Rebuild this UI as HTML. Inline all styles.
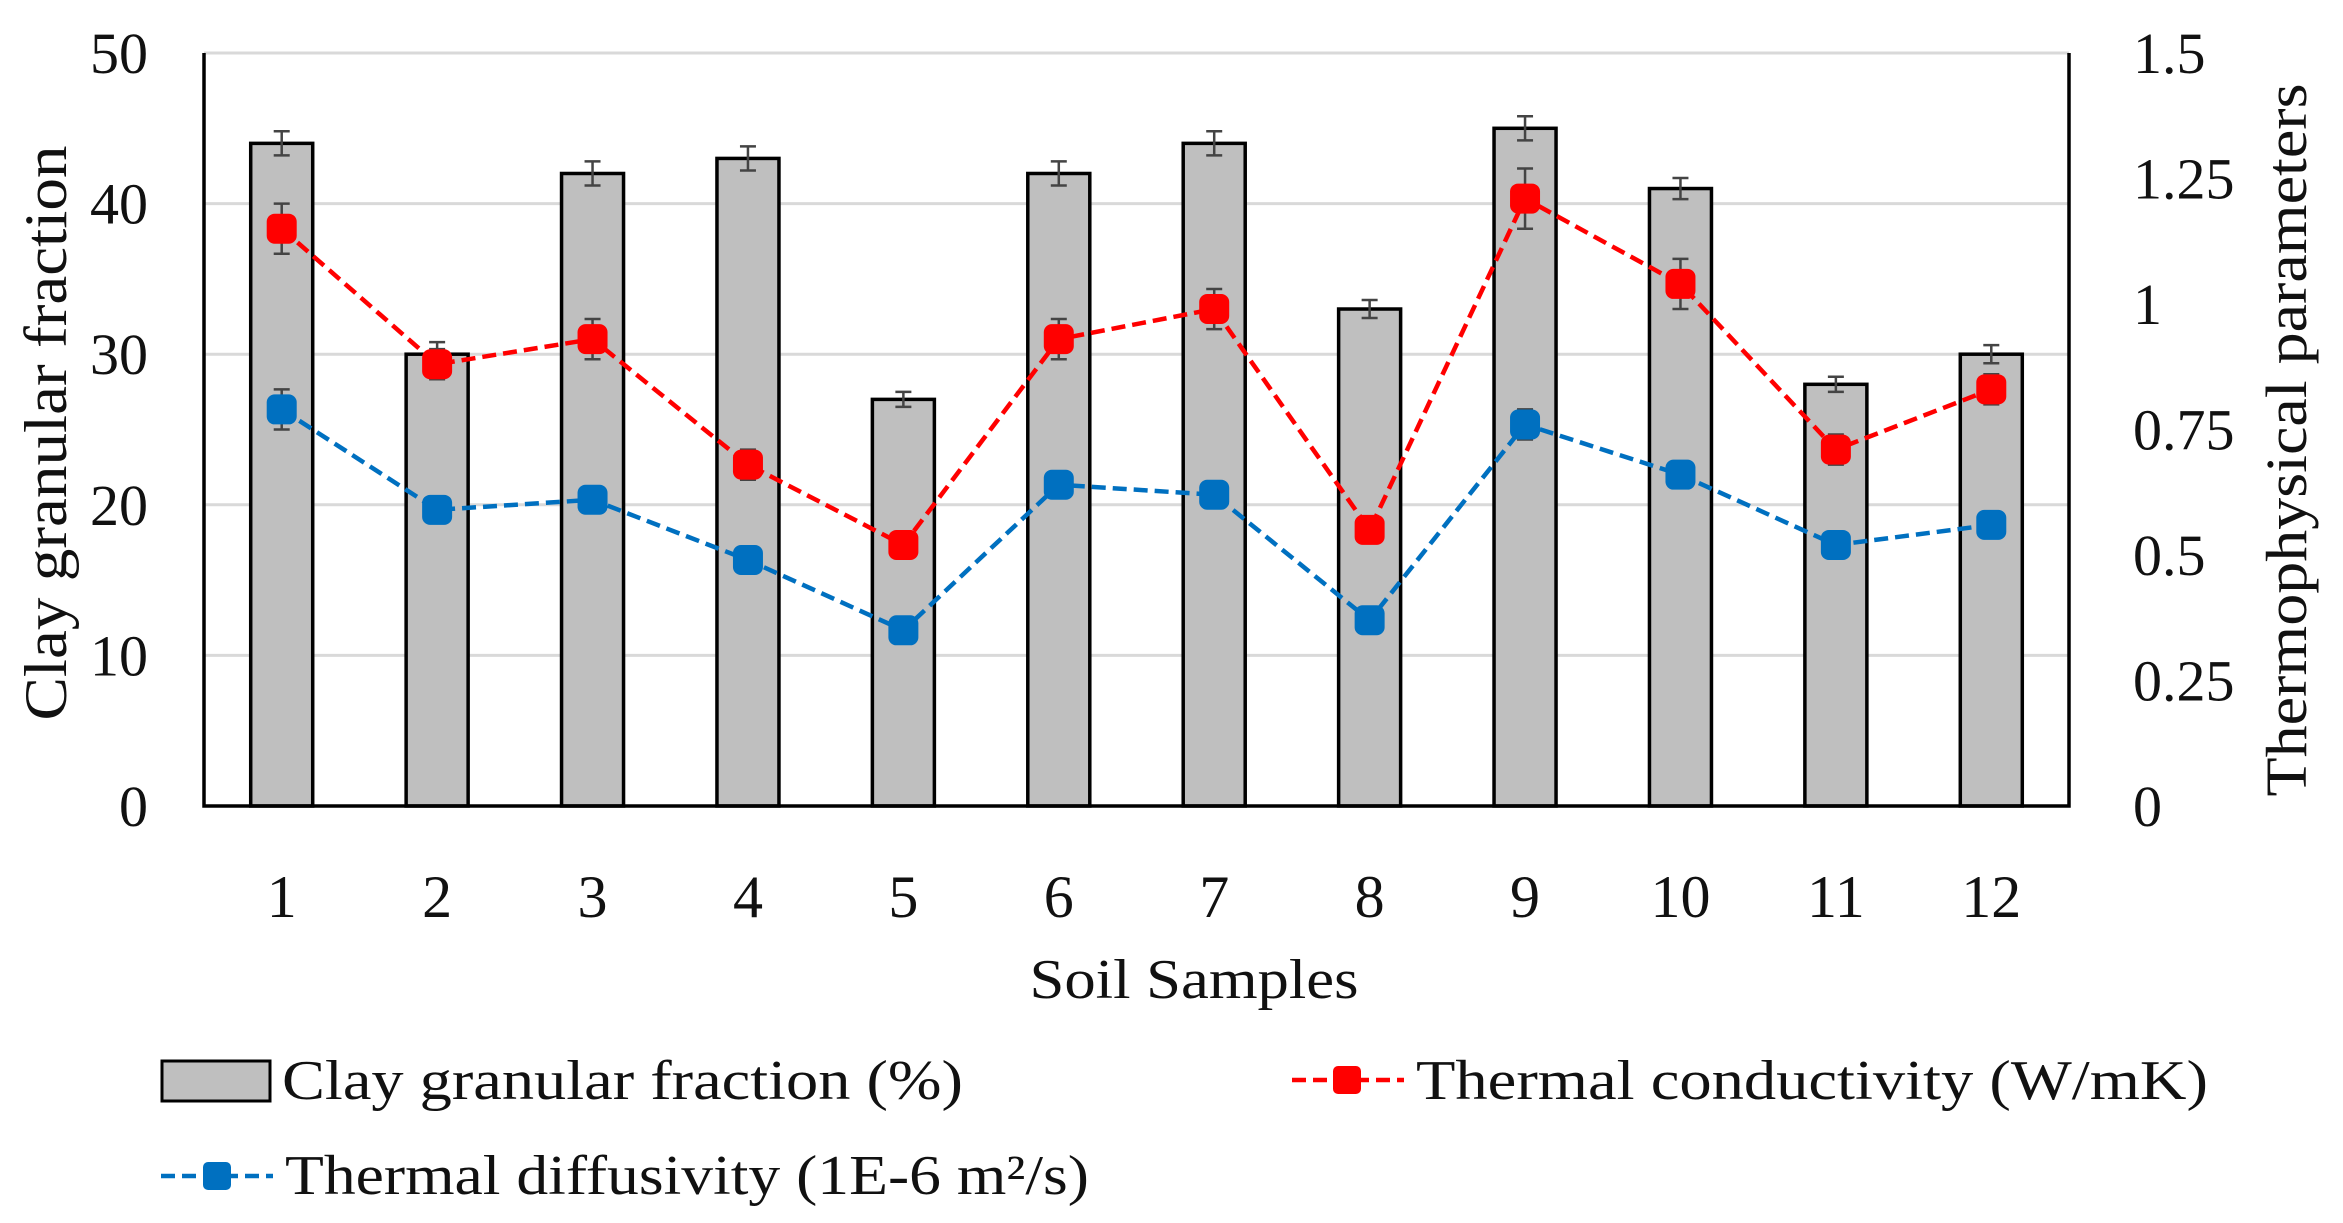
<!DOCTYPE html>
<html><head><meta charset="utf-8"><style>
html,body{margin:0;padding:0;background:#fff;}
svg{display:block;font-family:"Liberation Serif",serif;}
</style></head><body>
<svg id="chart" width="2343" height="1223" viewBox="0 0 2343 1223" xmlns="http://www.w3.org/2000/svg">
<g id="grid"></g>
<g id="bars"></g>
<g id="axes"></g>
<g id="lines"></g>
<g id="ticks" font-size="58" fill="#111"></g>
<text x="0" y="0" transform="translate(66,433) rotate(-90)" text-anchor="middle" font-size="60" fill="#111" textLength="575" lengthAdjust="spacingAndGlyphs">Clay granular fraction</text>
<text x="0" y="0" transform="translate(2306,440) rotate(-90)" text-anchor="middle" font-size="58" fill="#111" textLength="713" lengthAdjust="spacingAndGlyphs">Thermophysical parameters</text>
<text x="1194" y="998" text-anchor="middle" font-size="56" fill="#111" textLength="329" lengthAdjust="spacingAndGlyphs">Soil Samples</text>
<g font-size="56" fill="#111">
  <g>
    <rect x="162" y="1061" width="108" height="40" fill="#bfbfbf" stroke="#000" stroke-width="3"/>
    <text x="282" y="1099" textLength="681" lengthAdjust="spacingAndGlyphs">Clay granular fraction (%)</text>
  </g>
  <g>
    <line x1="1292" y1="1080" x2="1404" y2="1080" stroke="#ff0000" stroke-width="4.5" stroke-dasharray="14,7"/>
    <rect x="1333" y="1066" width="28" height="28" rx="5" fill="#ff0000"/>
    <text x="1416" y="1099" textLength="792" lengthAdjust="spacingAndGlyphs">Thermal conductivity (W/mK)</text>
  </g>
  <g>
    <line x1="161" y1="1176" x2="273" y2="1176" stroke="#0070c0" stroke-width="4.5" stroke-dasharray="14,7"/>
    <rect x="203" y="1162" width="28" height="28" rx="5" fill="#0070c0"/>
    <text x="285" y="1194" textLength="804" lengthAdjust="spacingAndGlyphs">Thermal diffusivity (1E-6 m²/s)</text>
  </g>
</g>
</svg>
<script>
const categories = ["1","2","3","4","5","6","7","8","9","10","11","12"];
const clayValues = [44,30,42,43,27,42,44,33,45,41,28,30];
const clayErrors = [0.8,0.8,0.8,0.8,0.5,0.8,0.8,0.6,0.8,0.7,0.5,0.6];
const conductivityValues = [1.15,0.88,0.93,0.68,0.52,0.93,0.99,0.55,1.21,1.04,0.71,0.83];
const conductivityErrors = [0.05,0.03,0.04,0.03,0.02,0.04,0.04,0.02,0.06,0.05,0.03,0.03];
const diffusivityValues = [0.79,0.59,0.61,0.49,0.35,0.64,0.62,0.37,0.76,0.66,0.52,0.56];
const diffusivityErrors = [0.04,0.02,0.02,0.02,0.02,0.02,0.02,0.02,0.03,0.02,0.02,0.02];
const leftTicks = [0,10,20,30,40,50];
const rightTicks = [0,0.25,0.5,0.75,1,1.25,1.5];
const rightTickLabels = ["0","0.25","0.5","0.75","1","1.25","1.5"];

const NS="http://www.w3.org/2000/svg";
const X0=204,X1=2069,Y0=806,Y1=53;
const band=(X1-X0)/categories.length;
const xc=i=>X0+band*(i+0.5);
const yL=v=>Y0-(v/50)*(Y0-Y1);
const yR=v=>Y0-(v/1.5)*(Y0-Y1);
function mk(tag,parent,attrs){const e=document.createElementNS(NS,tag);for(const k in attrs)e.setAttribute(k,attrs[k]);document.getElementById(parent).appendChild(e);return e;}

leftTicks.forEach(t=>{
  if(t>0){const g=mk('line','grid',{x1:X0,x2:X1,y1:yL(t),y2:yL(t),stroke:'#d9d9d9','stroke-width':3});
  
  }
  const l=mk('text','ticks',{x:148,y:yL(t)+20,'text-anchor':'end'});
  l.textContent=t;
  
  
});
rightTicks.forEach((t,i)=>{
  const l=mk('text','ticks',{x:2133,y:yR(t)+20,'text-anchor':'start'});
  l.textContent=rightTickLabels[i];
  
  
});
categories.forEach((c,i)=>{
  const l=mk('text','ticks',{x:xc(i),y:917,'text-anchor':'middle','font-size':60});
  l.textContent=c;
  
  
});
const bw=62;
clayValues.forEach((v,i)=>{
  const b=mk('rect','bars',{x:xc(i)-bw/2,y:yL(v),width:bw,height:Y0-yL(v),fill:'#bfbfbf',stroke:'#000','stroke-width':3.5});
  
  
  const e=clayErrors[i],x=xc(i),ya=yL(v+e),yb=yL(v-e);
  const p=mk('path','bars',{d:`M${x},${ya}V${yb}M${x-8},${ya}H${x+8}M${x-8},${yb}H${x+8}`,stroke:'#444','stroke-width':2.5,fill:'none'});
  
  
});
const ax=mk('path','axes',{d:`M${X0},${Y1}V${Y0}H${X1}V${Y1}`,stroke:'#000','stroke-width':3.5,fill:'none'});



function series(vals,errs,color,name){
  const pts=vals.map((v,i)=>xc(i)+','+yR(v)).join(' ');
  const pl=mk('polyline','lines',{points:pts,fill:'none',stroke:color,'stroke-width':4.5,'stroke-dasharray':'14,7'});
  
  
  vals.forEach((v,i)=>{
    const x=xc(i),ya=yR(v+errs[i]),yb=yR(v-errs[i]);
    const p=mk('path','lines',{d:`M${x},${ya}V${yb}M${x-8},${ya}H${x+8}M${x-8},${yb}H${x+8}`,stroke:'#444','stroke-width':2.5,fill:'none'});
    
    
    const m=mk('rect','lines',{x:x-15,y:yR(v)-15,width:30,height:30,rx:8,fill:color});
    
    
  });
}
series(conductivityValues,conductivityErrors,'#ff0000','conductivity');
series(diffusivityValues,diffusivityErrors,'#0070c0','diffusivity');
</script>
</body></html>
